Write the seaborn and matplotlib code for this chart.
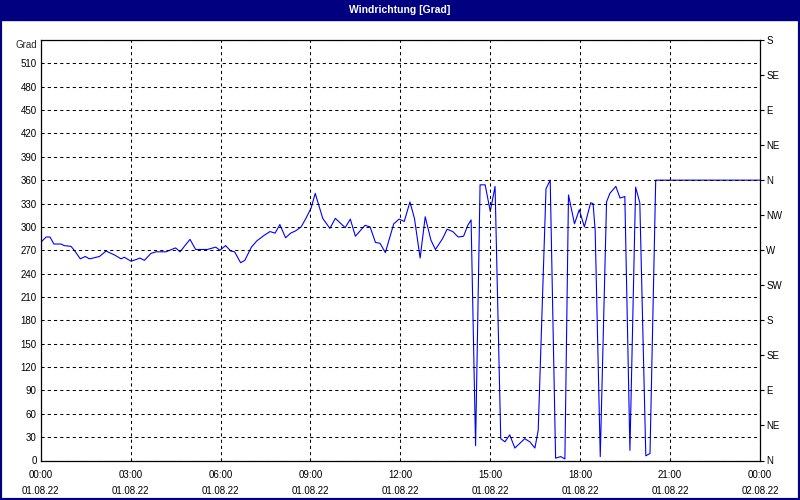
import pandas as pd
import matplotlib.pyplot as plt
import matplotlib.dates as mdates
from matplotlib.patches import Rectangle
import seaborn as sns

# --------------------------------
# Data (hours since 01.08.22 00:00, wind direction in degrees)
# --------------------------------
hours = [0.0, 0.18, 0.31, 0.44, 0.68, 0.78, 1.01, 1.12, 1.32, 1.49,
         1.62, 1.75, 1.96, 2.18, 2.29, 2.46, 2.68, 2.79, 3.01, 3.18,
         3.31, 3.46, 3.68, 3.85, 4.18,
         4.5, 4.65, 4.98, 5.17, 5.56, 5.84, 5.98, 6.17, 6.34, 6.47,
         6.67, 6.81, 7.03, 7.21, 7.45, 7.65, 7.82, 7.98, 8.17, 8.34,
         8.51, 8.69, 8.85, 9.02, 9.16, 9.41, 9.65, 9.83, 10.16, 10.33,
         10.5, 10.82, 10.99, 11.17, 11.32, 11.5, 11.78, 11.96, 12.13, 12.32,
         12.47, 12.66, 12.83, 13.02, 13.17, 13.41, 13.56, 13.75, 13.93, 14.11,
         14.25, 14.36,
         14.51, 14.66, 14.83, 15.0, 15.16, 15.35, 15.49, 15.65, 15.82, 16.15,
         16.32, 16.49, 16.6, 16.86, 17.0, 17.18, 17.35, 17.49, 17.61, 17.67,
         17.81, 17.97, 18.14, 18.35, 18.43, 18.5, 18.67, 18.88, 18.99, 19.19,
         19.33, 19.49, 19.66, 19.85, 19.99, 20.19, 20.33, 20.52, 24.0]

grad = [280, 287, 287, 278, 278, 276, 275, 270, 259, 262,
        259, 260, 262, 269, 267, 264, 259, 261, 256, 258,
        260, 257, 266, 268, 268,
        273, 268, 284, 271, 271, 274, 270, 276, 269, 268,
        254, 257, 274, 282, 289, 294, 292, 303, 286, 292,
        295, 300, 311, 324, 343, 311, 298, 311, 299, 310,
        288, 302, 300, 280, 279, 267, 304, 310, 307, 332,
        311, 260, 313, 283, 271, 285, 297, 294, 287, 288,
        302, 309,
        19, 354, 354, 320, 352, 28, 24, 33, 16, 28,
        24, 16, 39, 349, 360, 3, 5, 2, 341, 330,
        304, 322, 300, 331, 330, 296, 5, 332, 343, 352,
        337, 339, 13, 351, 331, 6, 9, 360, 360]

left_ticks = list(range(0, 541, 30))
left_labels = [str(v) for v in left_ticks[:-1]] + ['']
right_ticks = list(range(0, 541, 45))
right_labels = ['N', 'NE', 'E', 'SE', 'S', 'SW', 'W', 'NW',
                'N', 'NE', 'E', 'SE', 'S']

start = pd.Timestamp('2022-08-01 00:00')
df = pd.DataFrame({'Zeit': start + pd.to_timedelta(hours, unit='h'),
                   'Grad': grad})

sns.set_style("white")
plt.rcParams['font.family'] = ['Liberation Sans', 'DejaVu Sans']
plt.rcParams['font.size'] = 7

navy = '#000080'

fig = plt.figure(figsize=(8, 5), dpi=100)
ax = fig.add_axes([40.7 / 800, 39.5 / 500, 719.3 / 800, 420.5 / 500])

sns.lineplot(data=df, x='Zeit', y='Grad', ax=ax, color='#0000ff',
             linewidth=0.8)

ax.set_xlim(start, start + pd.Timedelta(hours=24))
ax.set_ylim(0, 540)
ax.set_xlabel('')
ax.set_ylabel('')

ax.xaxis.set_major_locator(mdates.HourLocator(byhour=range(0, 24, 3)))
ax.xaxis.set_minor_locator(mdates.HourLocator())
ax.xaxis.set_major_formatter(mdates.DateFormatter('%H:%M\n%d.%m.%y'))
for lbl in ax.get_xticklabels():
    lbl.set_linespacing(1.75)

ax.set_yticks(left_ticks)
ax.set_yticklabels(left_labels)
# unit label at the top of the left axis
ax.text(-3.5 / 719.3, 1 - 5 / 420.5, 'Grad', transform=ax.transAxes,
        ha='right', va='center', fontsize=7)

ax.tick_params(axis='y', which='both', length=0, pad=3, labelsize=7,
               colors='black')
ax.tick_params(axis='x', which='major', length=3, width=0.8, direction='out',
               pad=3.5, labelsize=7, colors='black')
ax.tick_params(axis='x', which='minor', length=3, width=0.8, direction='out')

ax.grid(True, which='major', color='black', linestyle=(0, (3, 3)),
        linewidth=0.75)
ax.set_axisbelow(False)

for side in ['left', 'right', 'top', 'bottom']:
    ax.spines[side].set_visible(True)
    ax.spines[side].set_color('black')
    ax.spines[side].set_linewidth(0.9)

ax2 = ax.twinx()
ax2.set_ylim(0, 540)
ax2.set_yticks(right_ticks)
ax2.set_yticklabels(right_labels)
ax2.tick_params(axis='y', length=3, width=0.8, direction='out', pad=1.5,
                labelsize=7, colors='black')
ax2.grid(False)
for side in ['left', 'right', 'top', 'bottom']:
    ax2.spines[side].set_visible(False)

# title bar and window frame
fig.patches.append(Rectangle((0, 1 - 20 / 500), 1, 20 / 500,
                             transform=fig.transFigure, color=navy,
                             zorder=0))
fig.patches.append(Rectangle((0, 0), 1, 1, transform=fig.transFigure,
                             fill=False, edgecolor=navy, linewidth=3,
                             zorder=5))
fig.text(0.5, 1 - 10 / 500, 'Windrichtung [Grad]', color='white',
         fontweight='bold', fontsize=7.5, ha='center', va='center')

fig.savefig('out.png', dpi=100)
